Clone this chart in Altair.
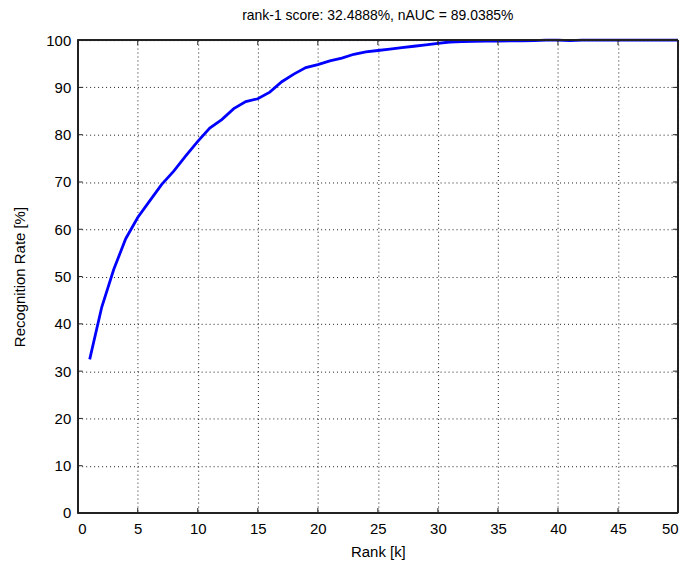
import altair as alt
import pandas as pd

# CMC curve values
ranks = list(range(1, 51))
rates = [32.5, 43.5, 51.5, 58.0, 62.5, 66.0, 69.5, 72.3, 75.5, 78.6,
         81.4, 83.2, 85.5, 87.0, 87.6, 89.0, 91.2, 92.8, 94.2, 94.8,
         95.6, 96.2, 97.0, 97.5, 97.8, 98.1, 98.4, 98.7, 99.0, 99.3,
         99.6, 99.7, 99.75, 99.8, 99.8, 99.85, 99.85, 99.9, 100.0, 100.0,
         99.9, 100.0, 100.0, 100.0, 100.0, 100.0, 100.0, 100.0, 100.0, 100.0]
x_ticks = list(range(0, 51, 5))
y_ticks = list(range(0, 101, 10))

W, H = 603, 475
FONT = "Liberation Sans"

df = pd.DataFrame({"rank": ranks, "rate": rates})
xt = pd.DataFrame({"t": x_ticks})
yt = pd.DataFrame({"t": y_ticks})

xscale = alt.Scale(domain=[0, 50], nice=False, zero=False)
yscale = alt.Scale(domain=[0, 100], nice=False, zero=False)

grid_axis_x = alt.Axis(values=x_ticks, grid=True, gridColor="#000000", gridDash=[1, 3],
                       gridWidth=1, gridOpacity=0.9, ticks=False, domain=False,
                       labelFont=FONT, labelFontSize=15, labelColor="#000000",
                       labelPadding=9, title="Rank [k]", titleFont=FONT,
                       titleFontSize=15, titleFontWeight="normal", titleColor="#000000",
                       titlePadding=8)
grid_axis_y = alt.Axis(values=y_ticks, grid=True, gridColor="#000000", gridDash=[1, 3],
                       gridWidth=1, gridOpacity=0.9, ticks=False, domain=False,
                       labelFont=FONT, labelFontSize=15, labelColor="#000000",
                       labelPadding=7, title="Recognition Rate [%]", titleFont=FONT,
                       titleFontSize=15, titleFontWeight="normal", titleColor="#000000",
                       titlePadding=18)

line = alt.Chart(df).mark_line(color="#0000FF", strokeWidth=2.8).encode(
    x=alt.X("rank:Q", scale=xscale, axis=grid_axis_x),
    y=alt.Y("rate:Q", scale=yscale, axis=grid_axis_y),
)

tick_color = "#222222"
xb = alt.Chart(xt).mark_rule(color=tick_color, strokeWidth=1).encode(
    x=alt.X("t:Q", scale=xscale), y=alt.value(H), y2=alt.value(H - 5))
xtop = alt.Chart(xt).mark_rule(color=tick_color, strokeWidth=1).encode(
    x=alt.X("t:Q", scale=xscale), y=alt.value(0), y2=alt.value(5))
yl = alt.Chart(yt).mark_rule(color=tick_color, strokeWidth=1).encode(
    y=alt.Y("t:Q", scale=yscale), x=alt.value(0), x2=alt.value(5))
yr = alt.Chart(yt).mark_rule(color=tick_color, strokeWidth=1).encode(
    y=alt.Y("t:Q", scale=yscale), x=alt.value(W), x2=alt.value(W - 5))

border_top = alt.Chart(xt).mark_rule(color=tick_color, strokeWidth=1.2).encode(
    x=alt.value(0), x2=alt.value(W), y=alt.value(0))
border_bottom = alt.Chart(xt).mark_rule(color=tick_color, strokeWidth=1.2).encode(
    x=alt.value(0), x2=alt.value(W), y=alt.value(H))
border_left = alt.Chart(xt).mark_rule(color=tick_color, strokeWidth=1.2).encode(
    y=alt.value(0), y2=alt.value(H), x=alt.value(0))
border_right = alt.Chart(xt).mark_rule(color=tick_color, strokeWidth=1.2).encode(
    y=alt.value(0), y2=alt.value(H), x=alt.value(W))

chart = alt.layer(line, xb, xtop, yl, yr, border_top, border_bottom, border_left, border_right).properties(
    width=W, height=H,
    title=alt.TitleParams("rank-1 score: 32.4888%, nAUC = 89.0385%", font=FONT, fontSize=14,
                          fontWeight="normal", color="#000000", offset=10),
    autosize=alt.AutoSizeParams(type="none"),
    padding={"left": 70, "top": 31, "right": 8, "bottom": 56},
).configure_view(stroke=None).configure(background="#ffffff")

chart.save("out.html", embed_options={"renderer": "svg", "actions": False})
